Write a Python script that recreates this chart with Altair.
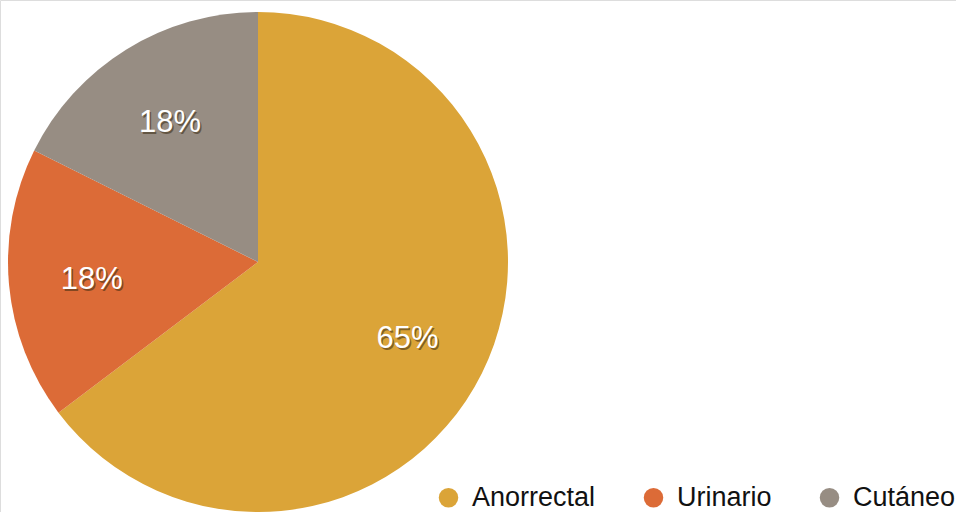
import altair as alt
import pandas as pd

categories = ["Anorrectal", "Urinario", "Cutáneo"]
counts = [11, 3, 3]
labels = ["65%", "18%", "18%"]
colors = ["#DBA438", "#DC6B37", "#978D83"]

df = pd.DataFrame({"cat": categories, "count": counts, "label": labels, "ord": [0, 1, 2]})

FONT = "Liberation Sans"
CX, CY, R = 258, 262, 250

base = alt.Chart(df).encode(
    theta=alt.Theta("count:Q", stack=True),
    order=alt.Order("ord:Q"),
    x=alt.value(CX),
    y=alt.value(CY),
)

pie = base.mark_arc(outerRadius=R).encode(
    color=alt.Color(
        "cat:N",
        scale=alt.Scale(domain=categories, range=colors),
        sort=categories,
        legend=alt.Legend(
            title=None,
            orient="none",
            direction="horizontal",
            legendX=435,
            legendY=484,
            symbolType="circle",
            symbolSize=380,
            symbolStrokeWidth=0,
            labelFont=FONT,
            labelFontSize=27,
            labelColor="#111111",
            labelOffset=10,
            columnPadding=44,
        ),
    )
)

shadow = base.mark_text(radius=167, font=FONT, fontSize=31, color="#3a2a10", opacity=0.55, dx=1.5, dy=5).encode(
    text="label:N"
)
text = base.mark_text(radius=167, font=FONT, fontSize=31, color="white", dy=3).encode(text="label:N")

chart = (pie + shadow + text).properties(
    width=956, height=512, padding=0, autosize=alt.AutoSizeParams(type="none")
).configure_view(stroke=None).configure(background="white")

chart.save("out.html", embed_options={"renderer": "svg", "actions": False})
